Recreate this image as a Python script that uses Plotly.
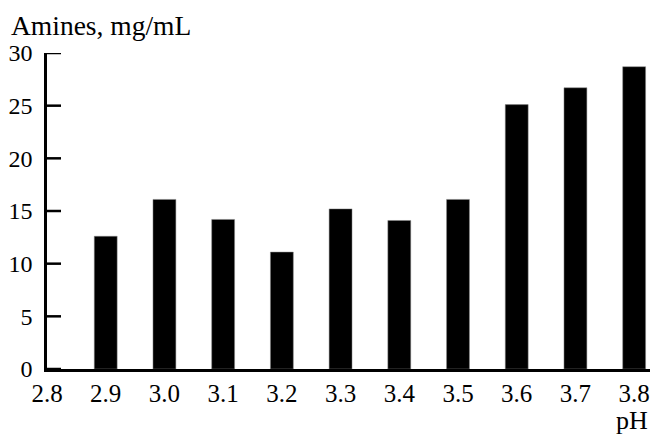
import plotly.graph_objects as go

ph_values = [2.9, 3.0, 3.1, 3.2, 3.3, 3.4, 3.5, 3.6, 3.7, 3.8]
amines = [12.6, 16.1, 14.2, 11.1, 15.2, 14.1, 16.1, 25.1, 26.7, 28.7]
x_tick_vals = [2.8, 2.9, 3.0, 3.1, 3.2, 3.3, 3.4, 3.5, 3.6, 3.7, 3.8]
x_tick_text = ["2.8", "2.9", "3.0", "3.1", "3.2", "3.3", "3.4", "3.5", "3.6", "3.7", "3.8"]
y_tick_vals = [0, 5, 10, 15, 20, 25, 30]
x_range = [2.8, 3.827]

FONT = "'Liberation Serif', 'Times New Roman', Times, serif"

fig = go.Figure()
fig.add_trace(go.Bar(
    x=ph_values, y=amines, width=0.039,
    marker=dict(color="black", line=dict(color="#888888", width=0.5)),
))
# inward-pointing y tick marks (left half clipped by the plot area)
fig.add_trace(go.Scatter(
    x=[x_range[0]] * len(y_tick_vals), y=y_tick_vals, mode="markers",
    marker=dict(symbol="line-ew", size=20, line=dict(color="black", width=2.5)),
    cliponaxis=True, hoverinfo="skip",
))

fig.update_layout(
    width=653, height=434,
    margin=dict(l=47, r=3, t=53, b=65, autoexpand=False),
    paper_bgcolor="white", plot_bgcolor="white",
    showlegend=False,
    font=dict(family=FONT, size=24, color="black"),
    xaxis=dict(
        range=x_range, tickvals=x_tick_vals, ticktext=x_tick_text,
        showline=True, linecolor="black", linewidth=2.5,
        ticks="", showgrid=False, zeroline=False, automargin=False,
        ticklabelstandoff=0,
        tickfont=dict(family=FONT, size=25, color="black"),
    ),
    yaxis=dict(
        range=[0, 30], tickvals=y_tick_vals,
        showline=True, linecolor="black", linewidth=2.5,
        ticks="", showgrid=False, zeroline=False, automargin=False,
        ticklabelstandoff=7,
        tickfont=dict(family=FONT, size=24, color="black"),
    ),
    annotations=[
        dict(text="Amines, mg/mL", xref="paper", yref="paper",
             x=0, y=1, xshift=-38, yshift=28, xanchor="left", yanchor="middle",
             showarrow=False, font=dict(family=FONT, size=27.5, color="black")),
        dict(text="pH", xref="paper", yref="paper",
             x=1, y=0, xshift=0, yshift=-51, xanchor="right", yanchor="middle",
             showarrow=False, font=dict(family=FONT, size=26, color="black")),
    ],
)

fig.write_html(
    "out.html",
    config={"displayModeBar": False},
    post_script="document.body.style.margin='0';document.body.style.overflow='hidden';",
)
